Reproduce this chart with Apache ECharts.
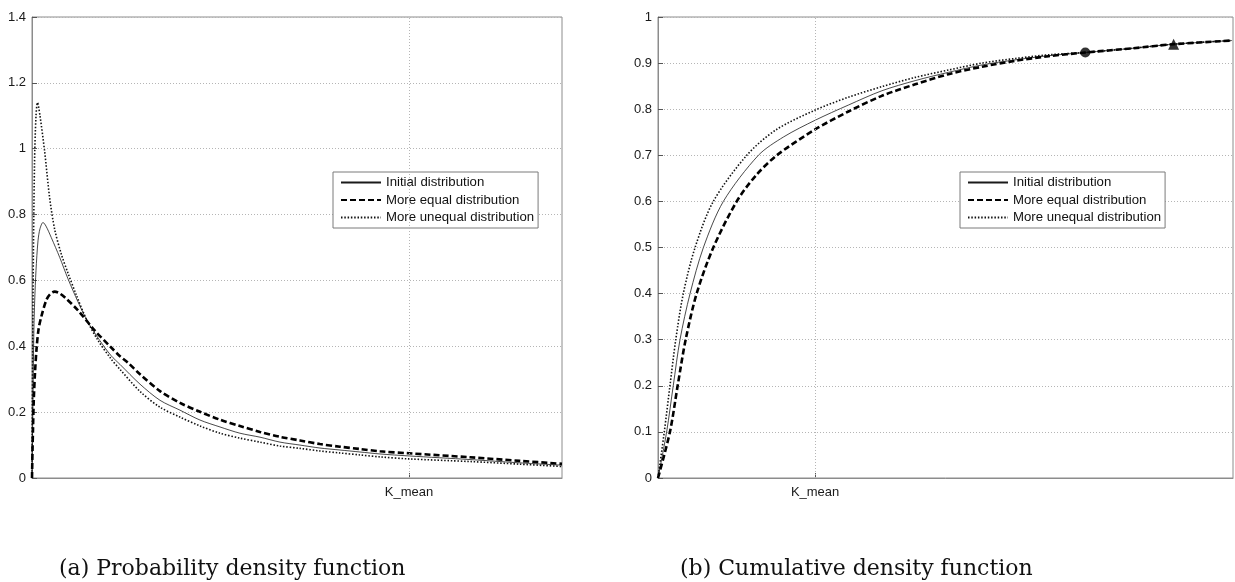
<!DOCTYPE html>
<html>
<head>
<meta charset="utf-8">
<script src="https://cdn.jsdelivr.net/npm/echarts@6/dist/echarts.min.js"></script>
<style>
  html, body { margin: 0; padding: 0; background: #fff; }
  #chart { width: 1235px; height: 582px; }
</style>
</head>
<body>
<div id="chart"></div>
<script>
// x is measured in units of K_mean (K_mean = 1)
const seriesNames = ['Initial distribution', 'More equal distribution', 'More unequal distribution'];

// (a) probability density
const pdfInitialX = [0, 0.0027, 0.005, 0.0072, 0.0106, 0.0159, 0.0212, 0.0292, 0.0371, 0.0512, 0.0735, 0.0955, 0.122, 0.1485, 0.1796, 0.2095, 0.2334, 0.2865, 0.3395, 0.3926, 0.4456, 0.4987, 0.5517, 0.6048, 0.6578, 0.7109, 0.7639, 0.817, 0.87, 0.9231, 1.0, 1.162, 1.294, 1.406];
const pdfInitialY = [0, 0.25, 0.45, 0.54, 0.63, 0.72, 0.757, 0.776, 0.765, 0.73, 0.67, 0.605, 0.535, 0.473, 0.418, 0.372, 0.345, 0.285, 0.236, 0.206, 0.176, 0.155, 0.136, 0.124, 0.109, 0.1, 0.091, 0.085, 0.079, 0.073, 0.067, 0.056, 0.046, 0.039];

const pdfEqualX = [0, 0.0013, 0.0027, 0.0048, 0.008, 0.0119, 0.0172, 0.0247, 0.0379, 0.0477, 0.0602, 0.0716, 0.0867, 0.122, 0.1663, 0.2095, 0.2334, 0.2546, 0.2865, 0.3395, 0.3926, 0.4456, 0.4987, 0.5517, 0.6048, 0.6578, 0.7109, 0.7639, 0.817, 0.87, 0.9231, 1.0, 1.162, 1.294, 1.406];
const pdfEqualY = [0, 0.08, 0.15, 0.24, 0.32, 0.39, 0.45, 0.49, 0.54, 0.558, 0.566, 0.562, 0.549, 0.509, 0.448, 0.397, 0.37, 0.35, 0.315, 0.264, 0.228, 0.201, 0.177, 0.158, 0.14, 0.125, 0.114, 0.103, 0.095, 0.088, 0.081, 0.075, 0.063, 0.052, 0.043];

const pdfUnequalX = [0, 0.0027, 0.0066, 0.0106, 0.0146, 0.0212, 0.0337, 0.0469, 0.0602, 0.0777, 0.0955, 0.1175, 0.144, 0.1751, 0.2095, 0.2334, 0.2865, 0.3395, 0.3926, 0.4456, 0.4987, 0.5517, 0.6048, 0.6578, 0.7109, 0.7639, 0.817, 0.87, 0.9231, 1.0, 1.162, 1.294, 1.406];
const pdfUnequalY = [0, 0.55, 0.95, 1.10, 1.14, 1.10, 0.99, 0.85, 0.755, 0.68, 0.622, 0.556, 0.483, 0.418, 0.362, 0.33, 0.263, 0.215, 0.185, 0.158, 0.136, 0.121, 0.109, 0.097, 0.09, 0.082, 0.076, 0.07, 0.064, 0.058, 0.05, 0.042, 0.035];

// (b) cumulative density
const cdfInitialX = [0, 0.055, 0.097, 0.140, 0.204, 0.289, 0.416, 0.639, 0.8, 1.0, 1.212, 1.425, 1.637, 1.849, 2.062, 2.274, 2.486, 2.72, 3.017, 3.282, 3.654];
const cdfInitialY = [0, 0.1, 0.2, 0.3, 0.4, 0.5, 0.6, 0.7, 0.74, 0.776, 0.809, 0.84, 0.862, 0.88, 0.896, 0.907, 0.916, 0.923, 0.932, 0.941, 0.949];

const cdfEqualX = [0, 0.076, 0.125, 0.176, 0.246, 0.352, 0.501, 0.62, 0.756, 1.0, 1.212, 1.425, 1.637, 1.849, 2.062, 2.274, 2.486, 2.72, 3.017, 3.282, 3.654];
const cdfEqualY = [0, 0.1, 0.2, 0.3, 0.4, 0.5, 0.6, 0.655, 0.7, 0.756, 0.795, 0.829, 0.854, 0.876, 0.892, 0.905, 0.915, 0.923, 0.932, 0.941, 0.949];

const cdfUnequalX = [0, 0.040, 0.076, 0.113, 0.161, 0.236, 0.352, 0.565, 0.75, 1.0, 1.212, 1.425, 1.637, 1.849, 2.062, 2.274, 2.486, 2.72, 3.017, 3.282, 3.654];
const cdfUnequalY = [0, 0.1, 0.2, 0.3, 0.4, 0.5, 0.6, 0.7, 0.755, 0.798, 0.826, 0.849, 0.869, 0.885, 0.9, 0.91, 0.918, 0.923, 0.932, 0.941, 0.949];

// marked points on the cdf
const circlePoint = [2.72, 0.923];
const trianglePoint = [3.282, 0.941];

const captions = ['(a) Probability density function', '(b) Cumulative density function'];

const zip = (xs, ys) => xs.map((x, i) => [x, ys[i]]);

const lineStyles = [
  { color: '#1a1a1a', width: 0.8, type: 'solid' },
  { color: '#000', width: 2.6, type: [6, 3] },
  { color: '#111', width: 1.6, type: [1.5, 1.8] }
];

const pdfData = [zip(pdfInitialX, pdfInitialY), zip(pdfEqualX, pdfEqualY), zip(pdfUnequalX, pdfUnequalY)];
const cdfData = [zip(cdfInitialX, cdfInitialY), zip(cdfEqualX, cdfEqualY), zip(cdfUnequalX, cdfUnequalY)];

const makeLines = (datasets, idx) => datasets.map((d, i) => ({
  name: seriesNames[i],
  type: 'line',
  xAxisIndex: idx,
  yAxisIndex: idx,
  data: d,
  symbol: 'none',
  smooth: 0.3,
  z: i === 1 ? 4 : 3,
  lineStyle: lineStyles[i],
  itemStyle: { color: lineStyles[i].color },
  animation: false
}));

const gridLine = { lineStyle: { color: '#b5b5b5', type: [1, 2], width: 1 } };
const tickLabel = { color: '#1a1a1a', fontSize: 13, fontFamily: 'Liberation Sans' };

const yAxisBase = (max, interval) => ({
  type: 'value',
  min: 0,
  max: max,
  interval: interval,
  axisLine: { show: true, lineStyle: { color: '#8c8c8c' } },
  axisTick: { show: true, inside: true, length: 5, lineStyle: { color: '#555' } },
  axisLabel: Object.assign({ margin: 6 }, tickLabel),
  splitLine: gridLine
});

const xAxisBase = (max) => ({
  type: 'value',
  min: 0,
  max: max,
  axisLine: { show: true, onZero: false, lineStyle: { color: '#8c8c8c' } },
  axisTick: { show: true, inside: true, length: 5, customValues: [1], lineStyle: { color: '#555' } },
  axisLabel: Object.assign({ margin: 8, customValues: [1], formatter: () => 'K_mean' }, tickLabel),
  splitLine: { show: false }
});

// vertical dotted grid line at K_mean
const kMeanLine = (idx) => ({
  type: 'line',
  xAxisIndex: idx,
  yAxisIndex: idx,
  data: [],
  silent: true,
  z: 1,
  markLine: {
    silent: true,
    symbol: 'none',
    label: { show: false },
    lineStyle: { color: '#b5b5b5', type: [1, 2], width: 1 },
    data: [{ xAxis: 1 }]
  }
});

const legendBase = (left) => ({
  orient: 'vertical',
  left: left,
  top: 172,
  data: seriesNames,
  backgroundColor: '#fff',
  borderColor: '#7a7a7a',
  borderWidth: 1,
  borderRadius: 0,
  padding: [4, 4, 4, 7],
  itemWidth: 40,
  itemHeight: 14,
  itemGap: 4.5,
  selectedMode: false,
  itemStyle: { opacity: 0 },
  textStyle: { fontSize: 13.2, fontFamily: 'Liberation Sans', color: '#111' }
});

const chart = echarts.init(document.getElementById('chart'));

const option = {
  backgroundColor: '#fff',
  animation: false,
  grid: [
    { left: 32, top: 17, width: 530, height: 461, show: true, borderColor: '#8c8c8c', borderWidth: 1, containLabel: false },
    { left: 658, top: 17, width: 575, height: 461, show: true, borderColor: '#8c8c8c', borderWidth: 1, containLabel: false }
  ],
  xAxis: [
    Object.assign({ gridIndex: 0 }, xAxisBase(1.406)),
    Object.assign({ gridIndex: 1 }, xAxisBase(3.66))
  ],
  yAxis: [
    Object.assign({ gridIndex: 0 }, yAxisBase(1.4, 0.2)),
    Object.assign({ gridIndex: 1 }, yAxisBase(1, 0.1))
  ],
  legend: [legendBase(333), legendBase(960)],
  series: [
    kMeanLine(0),
    kMeanLine(1),
    ...makeLines(pdfData, 0),
    ...makeLines(cdfData, 1),
    {
      type: 'scatter',
      xAxisIndex: 1,
      yAxisIndex: 1,
      symbol: 'circle',
      symbolSize: 10,
      z: 5,
      itemStyle: { color: '#000' },
      data: [circlePoint]
    },
    {
      type: 'scatter',
      xAxisIndex: 1,
      yAxisIndex: 1,
      symbol: 'triangle',
      symbolSize: 11,
      z: 5,
      itemStyle: { color: '#000' },
      data: [trianglePoint]
    }
  ],
  graphic: [
    { type: 'text', left: 59, top: 558, style: { text: captions[0], font: '22px "DejaVu Serif"', fill: '#111' } },
    { type: 'text', left: 680, top: 558, style: { text: captions[1], font: '22px "DejaVu Serif"', fill: '#111' } }
  ]
};

chart.setOption(option);
</script>
</body>
</html>
